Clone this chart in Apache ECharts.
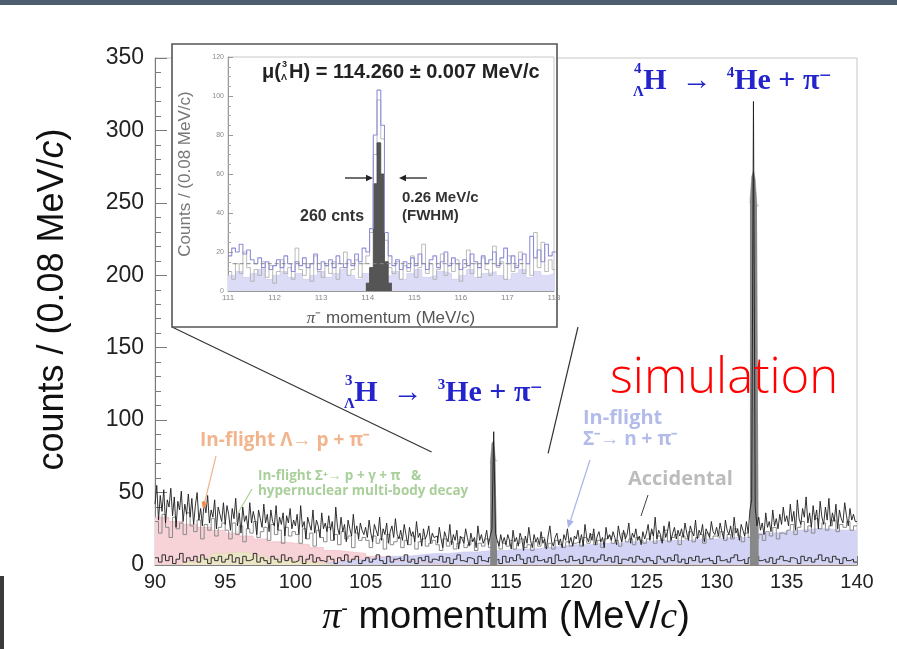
<!DOCTYPE html>
<html><head><meta charset="utf-8">
<script src="https://cdn.jsdelivr.net/npm/echarts@6/dist/echarts.min.js"></script>
<style>html,body{margin:0;padding:0;background:#fff}#c{width:897px;height:649px}</style>
</head><body><div id="c"></div>
<script>
// ---------- main spectrum (pi- momentum, MeV/c) ----------
const mainBinStart = 90, mainBinWidth = 0.125;
const totalCounts = [
  42, 55, 31, 48, 37, 52, 29, 45, 40, 53, 34, 47, 26, 44, 38, 51, 30, 42, 35, 49,
  33, 46, 28, 41, 50, 31, 39, 27, 44, 36, 48, 29, 38, 33, 45, 25, 40, 35, 30, 43,
  28, 41, 35, 24, 39, 32, 46, 27, 36, 22, 40, 30, 34, 25, 43, 29, 37, 31, 21, 38,
  32, 26, 42, 29, 35, 23, 38, 30, 27, 41, 24, 33, 28, 36, 20, 34, 29, 39, 25, 31,
  27, 35, 21, 41, 26, 30, 18, 33, 28, 24, 38, 22, 31, 27, 19, 36, 25, 29, 23, 34,
  24, 30, 17, 40, 26, 21, 33, 23, 28, 16, 31, 25, 20, 35, 22, 27, 18, 29, 24, 21,
  26, 19, 31, 22, 16, 28, 24, 20, 33, 17, 25, 21, 29, 15, 23, 27, 19, 32, 21, 18,
  24, 17, 28, 21, 14, 26, 20, 23, 16, 30, 19, 22, 13, 25, 18, 21, 27, 15, 22, 19,
  20, 15, 26, 18, 12, 23, 19, 16, 28, 14, 21, 17, 24, 11, 20, 18, 15, 25, 19, 13,
  22, 16, 19, 12, 27, 17, 21, 15, 18, 24, 14, 20, 25, 92, 22, 17, 13, 21, 15, 19,
  14, 21, 17, 11, 24, 16, 19, 13, 22, 18, 10, 20, 15, 26, 17, 12, 21, 16, 19, 14,
  23, 15, 18, 11, 20, 27, 16, 13, 19, 22, 14, 18, 12, 21, 17, 25, 15, 19, 13, 20,
  18, 24, 15, 21, 13, 28, 19, 16, 22, 17, 25, 14, 20, 23, 16, 19, 12, 26, 18, 21,
  17, 23, 19, 14, 27, 20, 16, 24, 18, 21, 29, 15, 22, 19, 25, 17, 20, 14, 23, 18,
  22, 28, 17, 25, 20, 33, 18, 24, 21, 15, 27, 19, 23, 30, 17, 22, 26, 18, 24, 20,
  25, 19, 29, 22, 17, 27, 23, 20, 31, 18, 24, 21, 28, 16, 25, 22, 19, 30, 23, 21,
  26, 20, 29, 23, 18, 31, 24, 21, 27, 19, 33, 22, 25, 17, 28, 24, 20, 30, 22, 38,
  45, 320, 40, 27, 33, 24, 29, 21, 36, 26, 30, 23, 38, 27, 32, 25, 35, 28, 40, 30,
  34, 27, 42, 30, 37, 24, 45, 32, 28, 39, 33, 47, 29, 36, 26, 41, 31, 38, 25, 44,
  33, 28, 40, 31, 46, 27, 36, 30, 42, 25, 38, 32, 29, 43, 34, 27, 39, 31, 35, 30
];
const componentBinWidth = 1;
const lambdaCounts = [
  33, 30, 28, 26, 24, 22, 20, 18, 16, 15, 14, 12, 10, 9, 8, 6, 5, 3, 2, 1,
  0, 0, 0, 0, 0, 0, 0, 0, 0, 0, 0, 0, 0, 0, 0, 0, 0, 0, 0, 0,
  0, 0, 0, 0, 0, 0, 0, 0, 0, 0
];
const multiBodyCounts = [
  0, 0, 2, 5, 8, 9, 8, 6, 4, 3, 2, 1, 0, 0, 0, 0, 0, 0, 0, 0,
  0, 0, 0, 0, 0, 0, 0, 0, 0, 0, 0, 0, 0, 0, 0, 0, 0, 0, 0, 0,
  0, 0, 0, 0, 0, 0, 0, 0, 0, 0
];
const sigmaCounts = [
  0, 0, 0, 0, 0, 0, 0, 0, 0, 0, 0, 1, 2, 3, 4, 5, 6, 6, 7, 8,
  8, 9, 9, 10, 10, 11, 11, 12, 13, 14, 14, 15, 15, 16, 16, 17, 17, 17, 18, 18,
  19, 19, 20, 22, 23, 24, 25, 25, 24, 24
];
const accBinWidth = 0.25;
const accidentalCounts = [
  30, 22, 35, 26, 19, 33, 25, 29, 21, 36, 27, 23, 31, 18, 28, 24, 32, 20, 26, 29,
  24, 18, 29, 21, 27, 16, 25, 22, 30, 19, 23, 26, 17, 28, 21, 24, 15, 26, 20, 23,
  21, 15, 25, 18, 22, 13, 24, 19, 16, 26, 17, 21, 14, 23, 18, 20, 12, 22, 17, 19,
  17, 12, 20, 15, 18, 11, 21, 14, 16, 19, 12, 17, 14, 20, 11, 16, 18, 13, 15, 17,
  14, 10, 18, 13, 16, 11, 15, 19, 12, 14, 17, 10, 15, 13, 18, 12, 14, 16, 11, 15,
  13, 17, 11, 15, 18, 12, 14, 10, 16, 13, 19, 12, 15, 11, 17, 14, 12, 16, 13, 15,
  16, 13, 19, 15, 21, 14, 17, 12, 18, 20, 15, 17, 13, 22, 16, 18, 14, 19, 17, 15,
  18, 22, 15, 20, 17, 24, 16, 19, 21, 14, 20, 18, 23, 16, 19, 21, 15, 22, 18, 20,
  19, 23, 17, 21, 18, 25, 20, 16, 22, 19, 24, 18, 21, 17, 23, 20, 26, 18, 22, 21,
  24, 28, 21, 26, 30, 23, 27, 22, 32, 25, 29, 24, 27, 31, 23, 28, 26, 30, 24, 27
];
const lowBinWidth = 0.25;
const lowNoiseCounts = [
  5, 2, 7, 3, 6, 1, 4, 8, 2, 5, 3, 6, 2, 7, 4, 1, 5, 3, 6, 2,
  4, 7, 2, 5, 1, 6, 3, 4, 8, 2, 5, 3, 1, 6, 4, 2, 7, 3, 5, 2,
  3, 6, 1, 4, 7, 2, 5, 3, 2, 6, 4, 1, 5, 3, 7, 2, 4, 6, 1, 3,
  5, 2, 4, 7, 3, 1, 6, 2, 4, 5, 3, 7, 2, 4, 1, 5, 3, 6, 2, 4,
  3, 6, 2, 5, 1, 4, 7, 3, 2, 5, 4, 1, 6, 3, 2, 5, 3, 4, 1, 6,
  2, 5, 3, 7, 4, 1, 5, 2, 6, 3, 4, 2, 5, 1, 7, 3, 4, 2, 6, 3,
  4, 1, 6, 3, 5, 2, 4, 7, 3, 5, 2, 6, 1, 4, 3, 5, 2, 6, 4, 2,
  5, 3, 1, 6, 4, 2, 5, 3, 7, 2, 4, 1, 5, 3, 6, 2, 4, 5, 3, 1,
  6, 3, 4, 2, 5, 7, 3, 4, 1, 5, 2, 6, 3, 4, 2, 5, 1, 4, 6, 3,
  2, 5, 4, 1, 6, 3, 5, 2, 4, 7, 3, 5, 2, 6, 4, 1, 5, 3, 4, 2
];
const peak3Bins = [113.875, 114.0, 114.125, 114.25];
const peak3Counts = [70, 84, 86, 72];
const peak4Bins = [132.375, 132.5, 132.625, 132.75, 132.875];
const peak4Counts = [250, 268, 272, 266, 248];

// ---------- inset (3ΛH region) ----------
const insetBinStart = 111, insetBinWidth = 0.08;
const insetTotal = [
  18, 22, 20, 24, 19, 21, 16, 14, 17, 12,
  15, 11, 13, 16, 12, 18, 14, 10, 15, 13,
  17, 12, 14, 19, 11, 15, 13, 16, 12, 18,
  14, 12, 16, 13, 19, 15, 22, 20, 32, 80,
  103, 85, 30, 18, 13, 16, 11, 15, 12, 17,
  13, 19, 14, 11, 16, 18, 12, 15, 20, 13,
  17, 14, 11, 16, 13, 19, 15, 12, 18, 14,
  16, 20, 13, 17, 22, 14, 18, 12, 16, 19,
  14, 28, 17, 21, 15, 24, 18, 20
];
const insetData = [
  10, 6, 14, 9, 20, 12, 5, 11, 8, 15,
  7, 13, 4, 10, 16, 9, 12, 6, 22, 11,
  8, 14, 5, 18, 10, 7, 13, 9, 15, 6,
  12, 20, 8, 11, 16, 7, 14, 18, 30, 70,
  98, 78, 26, 12, 9, 15, 6, 13, 10, 18,
  7, 12, 24, 9, 14, 6, 11, 19, 8, 13,
  10, 16, 5, 12, 21, 9, 14, 7, 17, 11,
  8, 23, 12, 15, 6, 18, 10, 13, 20, 9,
  14, 8, 30, 12, 25, 10, 16, 11
];
const insetBgWidth = 0.16;
const insetBackground = [
  8, 10, 7, 9, 11, 6, 8, 10, 7, 9, 6, 8, 10, 7, 9, 11, 8, 6, 9, 10, 7, 8,
  10, 6, 9, 11, 7, 8, 10, 9, 6, 8, 11, 7, 9, 10, 8, 6, 9, 11, 7, 10, 8, 9
];
const insetSignalBins = [113.96, 114.04, 114.12, 114.2, 114.28, 114.36, 114.44];
const insetSignal = [4, 12, 55, 76, 60, 15, 4];
const insetFitLevel = 14;
const insetFitRange = [111.1, 117.4];

// ---------- helpers ----------
function hist(start, width, values) {
  const pts = values.map((v, i) => [+(start + i * width).toFixed(4), v]);
  pts.push([+(start + values.length * width).toFixed(4), values[values.length - 1]]);
  return pts;
}
function binsHist(bins, values, width) {
  const pts = bins.map((b, i) => [b, values[i]]);
  pts.push([+(bins[bins.length - 1] + width).toFixed(4), values[values.length - 1]]);
  return pts;
}
function stepSeries(name, data, color, width, area, grid, z, zlevel) {
  return {
    name, type: 'line', step: 'end', data, xAxisIndex: grid, yAxisIndex: grid,
    showSymbol: false, symbol: 'none', animation: false, silent: true, z: z, zlevel: zlevel || 0,
    lineStyle: { color, width },
    areaStyle: area ? { color: area, opacity: 1 } : undefined
  };
}

const chart = echarts.init(document.getElementById('c'), null, { renderer: 'canvas' });
const axisGray = '#7a7a7a';
const sans = '"Liberation Sans", Arial, sans-serif';

const option = {
  backgroundColor: '#fff',
  animation: false,
  grid: [
    { left: 155, right: 40, top: 58, bottom: 84, show: true, borderColor: '#c6c6c6', borderWidth: 1, backgroundColor: '#fff' },
    { left: 228, top: 57, width: 326, height: 234, show: true, borderColor: '#c8c8c8', borderWidth: 1, zlevel: 1, z: 1 }
  ],
  xAxis: [
    {
      type: 'value', gridIndex: 0, min: 90, max: 140, interval: 5,
      axisLine: { lineStyle: { color: axisGray, width: 1 } },
      axisTick: { inside: true, length: 9, lineStyle: { color: axisGray } },
      minorTick: { show: true, splitNumber: 5, length: 5, lineStyle: { color: axisGray } },
      splitLine: { show: false },
      axisLabel: { fontSize: 20, color: '#222', margin: 7, fontFamily: '"Liberation Sans Narrow", "Liberation Sans", sans-serif' },
      name: '{i|π}{s|-} momentum (MeV/{i|c})', nameLocation: 'middle', nameGap: 34,
      nameTextStyle: { fontSize: 38, color: '#111', fontFamily: sans,
        rich: { i: { fontSize: 38, fontStyle: 'italic', fontFamily: 'Liberation Serif', color: '#111' }, s: { fontSize: 20, verticalAlign: 'top', color: '#111' } } }
    },
    {
      type: 'value', gridIndex: 1, min: 111, max: 118, interval: 1,
      axisLine: { lineStyle: { color: '#999' } },
      axisTick: { inside: true, length: 5, lineStyle: { color: '#999' } },
      minorTick: { show: true, splitNumber: 5, length: 3, lineStyle: { color: '#aaa' } },
      splitLine: { show: false },
      axisLabel: { fontSize: 8, color: '#888', margin: 3, fontFamily: sans },
      name: '{i|π}⁻ momentum (MeV/c)', nameLocation: 'middle', nameGap: 19,
      nameTextStyle: { fontSize: 17, color: '#555', fontFamily: sans, rich: { i: { fontStyle: 'italic', fontSize: 17, color: '#555', fontFamily: 'Liberation Serif' } } },
      zlevel: 1, z: 3
    }
  ],
  yAxis: [
    {
      type: 'value', gridIndex: 0, min: 0, max: 350, interval: 50,
      axisLine: { show: true, lineStyle: { color: axisGray, width: 1 } },
      axisTick: { show: true, inside: true, length: 12, lineStyle: { color: axisGray } },
      minorTick: { show: true, splitNumber: 5, length: 6, lineStyle: { color: axisGray } },
      splitLine: { show: false },
      axisLabel: { fontSize: 23, color: '#222', margin: 11, fontFamily: sans },
      name: 'counts / (0.08 MeV/{i|c})', nameLocation: 'middle', nameGap: 84,
      nameTextStyle: { fontSize: 36, color: '#111', fontFamily: sans, padding: [0, 0, 0, 24],
        rich: { i: { fontSize: 36, fontStyle: 'italic', color: '#111', fontFamily: sans } } }
    },
    {
      type: 'value', gridIndex: 1, min: 0, max: 120, interval: 20,
      axisLine: { show: true, lineStyle: { color: '#999' } },
      axisTick: { show: true, inside: true, length: 5, lineStyle: { color: '#999' } },
      minorTick: { show: true, splitNumber: 4, length: 3, lineStyle: { color: '#aaa' } },
      splitLine: { show: false },
      axisLabel: { fontSize: 7, color: '#888', margin: 4, fontFamily: sans },
      name: 'Counts / (0.08 MeV/c)', nameLocation: 'middle', nameGap: 34,
      nameTextStyle: { fontSize: 17, color: '#777', fontFamily: sans },
      zlevel: 1, z: 3
    }
  ],
  series: [
    stepSeries('Λ in-flight', hist(mainBinStart, componentBinWidth, lambdaCounts), '#eeb6bd', 0.6, '#f7d2d6', 0, 2),
    stepSeries('Σ in-flight', hist(mainBinStart, componentBinWidth, sigmaCounts), '#c2c3ee', 0.6, '#d3d4f5', 0, 2),
    stepSeries('multi-body', hist(mainBinStart, componentBinWidth, multiBodyCounts), '#e0d8b0', 0.6, '#ece5c6', 0, 3),
    stepSeries('accidental', hist(mainBinStart, accBinWidth, accidentalCounts), '#8a8a8a', 1, null, 0, 4),
    stepSeries('low', hist(mainBinStart, lowBinWidth, lowNoiseCounts), '#2e2e2e', 1, null, 0, 4),
    stepSeries('peak3', binsHist(peak3Bins, peak3Counts, mainBinWidth), '#7a7a7a', 0.5, '#858585', 0, 5),
    stepSeries('peak4', binsHist(peak4Bins, peak4Counts, mainBinWidth), '#7a7a7a', 0.5, '#888888', 0, 5),
    stepSeries('total', hist(mainBinStart, mainBinWidth, totalCounts), '#1c1c1c', 0.9, null, 0, 6),

    stepSeries('inset bg', hist(insetBinStart, insetBgWidth, insetBackground), '#c8c8ef', 0.6, '#dcdcf6', 1, 4, 1),
    stepSeries('inset data', hist(insetBinStart, insetBinWidth, insetData), '#aaaaaa', 0.8, null, 1, 5, 1),
    stepSeries('inset signal', binsHist(insetSignalBins, insetSignal, insetBinWidth), '#444', 0.8, '#555', 1, 6, 1),
    stepSeries('inset total', hist(insetBinStart, insetBinWidth, insetTotal), '#8e8ed8', 1.1, null, 1, 7, 1),
    {
      name: 'inset fit', type: 'line', xAxisIndex: 1, yAxisIndex: 1, zlevel: 1, z: 8, silent: true,
      showSymbol: false, symbol: 'none', animation: false,
      data: [[insetFitRange[0], insetFitLevel], [insetFitRange[1], insetFitLevel]],
      lineStyle: { color: '#888', width: 1, type: [4, 3] }
    }
  ]
};
chart.setOption(option);

// ---------- annotations ----------
const blue = '#2424cc';
const serif = '"Liberation Serif", "Times New Roman", serif';
function nuclide(x, cy, A, rest, size) {
  const small = Math.round(size * 0.5);
  return [
    { type: 'text', z: 20, style: { text: A, x: x, y: cy - size * 0.4, font: `bold ${small}px ${serif}`, fill: blue, align: 'left', verticalAlign: 'middle' } },
    { type: 'text', z: 20, style: { text: 'Λ', x: x - 1, y: cy + size * 0.36, font: `bold ${small}px ${serif}`, fill: blue, align: 'left', verticalAlign: 'middle' } },
    { type: 'text', z: 20, style: { text: rest, x: x + small * 0.62, y: cy, font: `bold ${size}px ${serif}`, fill: blue, align: 'left', verticalAlign: 'middle',
        rich: {
          s: { font: `bold ${small}px ${serif}`, fill: blue, verticalAlign: 'top', lineHeight: small },
          m: { font: `bold ${Math.round(size * 0.7)}px ${serif}`, fill: blue, verticalAlign: 'top', lineHeight: small }
        } } }
  ];
}
function txt(text, x, y, font, fill) {
  return { type: 'text', z: 20, style: { text, x, y, font, fill, align: 'left', verticalAlign: 'middle' } };
}
function line(x1, y1, x2, y2, color, w) {
  return { type: 'line', z: 20, shape: { x1, y1, x2, y2 }, style: { stroke: color, lineWidth: w } };
}
function arrowHead(x, y, dx, dy, color, size) {
  const L = Math.hypot(dx, dy), ux = dx / L, uy = dy / L, s = size;
  return { type: 'polygon', z: 21, shape: { points: [[x, y], [x - ux * s - uy * s * 0.45, y - uy * s + ux * s * 0.45], [x - ux * s + uy * s * 0.45, y - uy * s - ux * s * 0.45]] }, style: { fill: color } };
}
function onInset(list) { list.forEach(e => { e.zlevel = 1; }); return list; }

const p = (x, y) => chart.convertToPixel({ xAxisIndex: 0, yAxisIndex: 0 }, [x, y]);
const zoomL = p(109.7, 78), zoomR = p(118.0, 77);
const insetBox = { x: 172, y: 44, w: 385, h: 283 };
const sp = '\u2002';

const g = [
  { type: 'rect', z: 0, shape: { x: 0, y: 0, width: 897, height: 5 }, style: { fill: '#4f5e6e' } },
  { type: 'rect', z: 0, shape: { x: 0, y: 576, width: 4, height: 73 }, style: { fill: '#3a3a3a' } },
  { type: 'rect', zlevel: 1, z: -5, shape: { x: insetBox.x, y: insetBox.y, width: insetBox.w, height: insetBox.h }, style: { fill: '#fff', stroke: '#555', lineWidth: 1.6 } },
  line(insetBox.x, insetBox.y + insetBox.h, zoomL[0], zoomL[1], '#333', 1.2),
  line(578, insetBox.y + insetBox.h, zoomR[0], zoomR[1], '#333', 1.2),

  ...onInset([
    txt('μ(', 262, 72, `bold 20px ${sans}`, '#222'),
    txt('3', 282, 65, `bold 9px ${sans}`, '#222'),
    txt('Λ', 281, 78, `bold 9px ${sans}`, '#222'),
    txt('H) = 114.260 ± 0.007 MeV/c', 289, 72, `bold 20px ${sans}`, '#222'),
    txt('260 cnts', 300, 217, `bold 16px ${sans}`, '#333'),
    txt('0.26 MeV/c', 402, 198, `bold 15px ${sans}`, '#333'),
    txt('(FWHM)', 402, 216, `bold 15px ${sans}`, '#333'),
    line(345, 178, 370, 178, '#222', 1.3), arrowHead(373, 178, 1, 0, '#222', 7),
    line(427, 178, 402, 178, '#222', 1.3), arrowHead(399, 178, -1, 0, '#222', 7)
  ]),

  // reaction labels
  ...nuclide(345, 393, '3', `H${sp}→${sp}{s|3}He + π{m|−}`, 30),
  ...nuclide(634, 81, '4', `H${sp}→${sp}{s|4}He + π{m|−}`, 30),

  // component labels
  txt('In-flight Λ→ p + π⁻', 200, 441, `bold 19px "Open Sans", ${sans}`, '#f2b48c'),
  txt('In-flight Σ⁺→ p + γ + π   &', 258, 476, `bold 13.5px "Open Sans", ${sans}`, '#a9cf9a'),
  txt('hypernuclear multi-body decay', 258, 491, `bold 13.5px "Open Sans", ${sans}`, '#a9cf9a'),
  txt('In-flight', 583, 418, `bold 20px "Open Sans", ${sans}`, '#b3bbea'),
  txt('Σ⁻→ n + π⁻', 583, 440, `bold 19px "Open Sans", ${sans}`, '#b3bbea'),
  txt('Accidental', 628, 479, `bold 20px "Open Sans", ${sans}`, '#bcbcbc'),
  txt('simulation', 610, 379, `300 49px "Open Sans", sans-serif`, '#ff0000'),

  line(216, 456, 204, 505, '#f2b48c', 1.2), arrowHead(203, 509, -0.25, 1, '#f08c50', 7),
  line(252, 489, 238, 513, '#a9cf9a', 1.2),
  line(590, 460, 570, 522, '#aab4e8', 1.2), arrowHead(568, 528, -0.3, 1, '#aab4e8', 8),
  line(648, 495, 641, 516, '#444', 1)
];
chart.setOption({ graphic: { elements: g } });
</script>
</body></html>
